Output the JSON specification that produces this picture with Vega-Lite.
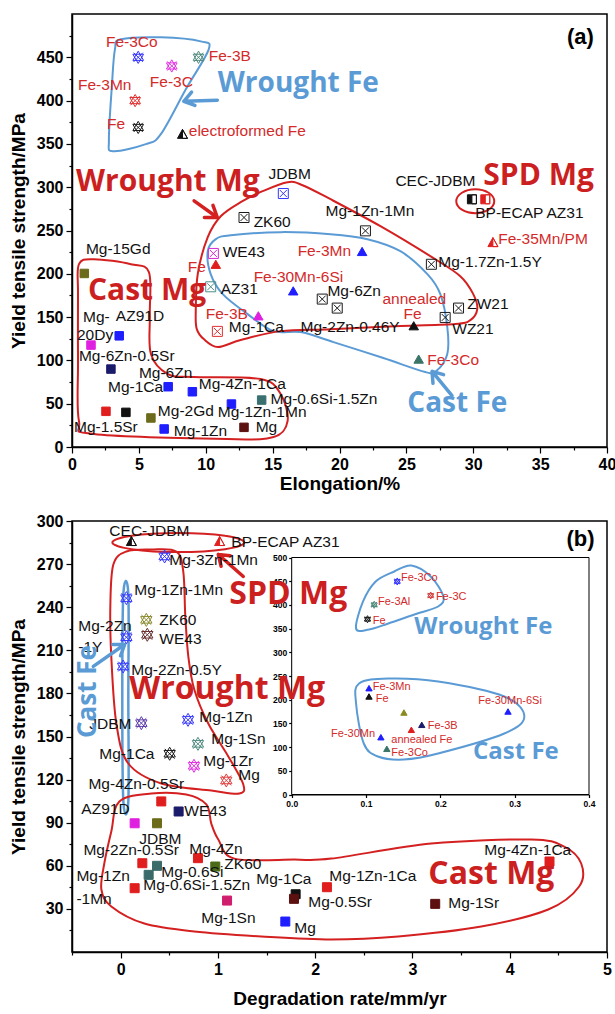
{
"$schema": "https://vega.github.io/schema/vega-lite/v6.json",
"padding": {"left": 8, "top": 13, "right": 5, "bottom": 5},
"spacing": 18,
"resolve": {"scale": {"stroke": "independent", "fill": "independent", "shape": "independent", "size": "independent"}},
"config": {
 "view": {"stroke": "#000", "strokeWidth": 1.5},
 "axis": {"labelFont": "Liberation Sans", "labelFontWeight": "bold", "labelFontSize": 16, "labelColor": "#000", "titleFont": "Liberation Sans", "titleFontWeight": "bold", "titleFontSize": 19, "titleColor": "#000", "domainColor": "#000", "domainWidth": 1.5, "tickColor": "#000", "tickWidth": 1.2, "tickSize": 6, "grid": false, "labelFlush": false, "labelOverlap": false, "labelPadding": 3}
},
"datasets": {
 "a_pts": [
  {"x":4.95,"y":450,"name":"Fe-3Co (wrought)","sym":"wrought Fe"},
  {"x":7.46,"y":440,"name":"Fe-3C (wrought)","sym":"wrought Fe"},
  {"x":9.46,"y":450,"name":"Fe-3B (wrought)","sym":"wrought Fe"},
  {"x":4.72,"y":400,"name":"Fe-3Mn (wrought)","sym":"wrought Fe"},
  {"x":4.95,"y":369,"name":"Fe (wrought)","sym":"wrought Fe"},
  {"x":8.26,"y":361,"name":"electroformed Fe","sym":"electroformed Fe"},
  {"x":15.8,"y":292.7,"name":"JDBM","sym":"wrought Mg"},
  {"x":12.86,"y":265,"name":"ZK60","sym":"wrought Mg"},
  {"x":10.57,"y":223.5,"name":"WE43","sym":"wrought Mg"},
  {"x":10.37,"y":185,"name":"AZ31","sym":"wrought Mg"},
  {"x":21.94,"y":249.6,"name":"Mg-1Zn-1Mn (wrought)","sym":"wrought Mg"},
  {"x":26.87,"y":211,"name":"Mg-1.7Zn-1.5Y","sym":"wrought Mg"},
  {"x":18.71,"y":170.8,"name":"Mg-6Zn (wrought)","sym":"wrought Mg"},
  {"x":19.83,"y":160.4,"name":"Mg-2Zn-0.46Y","sym":"wrought Mg"},
  {"x":28.9,"y":160.4,"name":"ZW21","sym":"wrought Mg"},
  {"x":27.9,"y":149.6,"name":"WZ21","sym":"wrought Mg"},
  {"x":10.87,"y":133.5,"name":"Mg-1Ca (wrought)","sym":"wrought Mg"},
  {"x":29.9,"y":286,"name":"CEC-JDBM","sym":"SPD Mg"},
  {"x":30.9,"y":286,"name":"BP-ECAP AZ31","sym":"SPD Mg"},
  {"x":31.47,"y":236,"name":"Fe-35Mn/PM","sym":"PM Fe"},
  {"x":21.69,"y":225.8,"name":"Fe-3Mn (cast)","sym":"cast Fe"},
  {"x":16.54,"y":180.3,"name":"Fe-30Mn-6Si","sym":"cast Fe"},
  {"x":10.75,"y":211,"name":"Fe (cast)","sym":"cast Fe"},
  {"x":13.93,"y":151.5,"name":"Fe-3B (cast)","sym":"cast Fe"},
  {"x":25.55,"y":140,"name":"annealed Fe","sym":"cast Fe"},
  {"x":25.92,"y":101.5,"name":"Fe-3Co (cast)","sym":"cast Fe"},
  {"x":0.92,"y":200.4,"name":"Mg-15Gd","sym":"cast Mg"},
  {"x":1.42,"y":117.7,"name":"Mg-20Dy","sym":"cast Mg"},
  {"x":3.53,"y":128.4,"name":"AZ91D","sym":"cast Mg"},
  {"x":2.91,"y":90,"name":"Mg-6Zn-0.5Sr","sym":"cast Mg"},
  {"x":7.19,"y":69.6,"name":"Mg-1Ca (cast)","sym":"cast Mg"},
  {"x":9.0,"y":63.8,"name":"Mg-6Zn (cast)","sym":"cast Mg"},
  {"x":11.92,"y":49.6,"name":"Mg-1Zn-1Mn (cast)","sym":"cast Mg"},
  {"x":14.18,"y":54.2,"name":"Mg-0.6Si-1.5Zn","sym":"cast Mg"},
  {"x":2.54,"y":41.2,"name":"Mg-1.5Sr","sym":"cast Mg"},
  {"x":4.03,"y":40,"name":"Mg-4Zn-1Ca","sym":"cast Mg"},
  {"x":5.9,"y":33.5,"name":"Mg-2Gd","sym":"cast Mg"},
  {"x":6.89,"y":20.8,"name":"Mg-1Zn","sym":"cast Mg"},
  {"x":12.86,"y":22.7,"name":"Mg","sym":"cast Mg"}
 ],
 "a_labels": [
  {"x":2.54,"y":467.3,"t":"Fe-3Co","k":"Fe"},
  {"x":10.22,"y":451,"t":"Fe-3B","k":"Fe"},
  {"x":0.45,"y":417.7,"t":"Fe-3Mn","k":"Fe"},
  {"x":5.82,"y":421,"t":"Fe-3C","k":"Fe"},
  {"x":2.61,"y":372.7,"t":"Fe","k":"Fe"},
  {"x":8.73,"y":364.6,"t":"electroformed Fe","k":"Fe"},
  {"x":14.7,"y":315,"t":"JDBM","k":"Mg"},
  {"x":13.58,"y":259.6,"t":"ZK60","k":"Mg"},
  {"x":11.27,"y":225,"t":"WE43","k":"Mg"},
  {"x":11.12,"y":182.3,"t":"AZ31","k":"Mg"},
  {"x":18.96,"y":272.3,"t":"Mg-1Zn-1Mn","k":"Mg"},
  {"x":27.39,"y":213.5,"t":"Mg-1.7Zn-1.5Y","k":"Mg"},
  {"x":19.1,"y":180,"t":"Mg-6Zn","k":"Mg"},
  {"x":29.55,"y":165,"t":"ZW21","k":"Mg"},
  {"x":28.43,"y":136.1,"t":"WZ21","k":"Mg"},
  {"x":24.18,"y":307,"t":"CEC-JDBM","k":"Mg"},
  {"x":30.15,"y":270,"t":"BP-ECAP AZ31","k":"Mg"},
  {"x":31.87,"y":240,"t":"Fe-35Mn/PM","k":"Fe"},
  {"x":16.87,"y":226.1,"t":"Fe-3Mn","k":"Fe"},
  {"x":13.58,"y":196.1,"t":"Fe-30Mn-6Si","k":"Fe"},
  {"x":8.66,"y":207.7,"t":"Fe","k":"Fe"},
  {"x":10.0,"y":153.5,"t":"Fe-3B","k":"Fe"},
  {"x":11.72,"y":138.5,"t":"Mg-1Ca","k":"Mg"},
  {"x":17.09,"y":138.5,"t":"Mg-2Zn-0.46Y","k":"Mg"},
  {"x":23.21,"y":170.8,"t":"annealed","k":"Fe"},
  {"x":24.78,"y":153.5,"t":"Fe","k":"Fe"},
  {"x":26.57,"y":100.8,"t":"Fe-3Co","k":"Fe"},
  {"x":1.04,"y":228.5,"t":"Mg-15Gd","k":"Mg"},
  {"x":0.82,"y":150,"t":"Mg-","k":"Mg"},
  {"x":0.37,"y":129.2,"t":"20Dy","k":"Mg"},
  {"x":3.28,"y":151.1,"t":"AZ91D","k":"Mg"},
  {"x":0.52,"y":105,"t":"Mg-6Zn-0.5Sr","k":"Mg"},
  {"x":2.69,"y":69.2,"t":"Mg-1Ca","k":"Mg"},
  {"x":5.0,"y":85.4,"t":"Mg-6Zn","k":"Mg"},
  {"x":9.48,"y":72.7,"t":"Mg-4Zn-1Ca","k":"Mg"},
  {"x":14.85,"y":55.4,"t":"Mg-0.6Si-1.5Zn","k":"Mg"},
  {"x":10.9,"y":40.4,"t":"Mg-1Zn-1Mn","k":"Mg"},
  {"x":6.42,"y":41.5,"t":"Mg-2Gd","k":"Mg"},
  {"x":0.15,"y":23.1,"t":"Mg-1.5Sr","k":"Mg"},
  {"x":7.61,"y":18.5,"t":"Mg-1Zn","k":"Mg"},
  {"x":13.73,"y":23.1,"t":"Mg","k":"Mg"}
 ],
 "a_big": [
  {"x":10.9,"y":418.8,"t":"Wrought Fe","k":"Fe"},
  {"x":25.07,"y":49.6,"t":"Cast Fe","k":"Fe"},
  {"x":0.3,"y":305.8,"t":"Wrought Mg","k":"Mg"},
  {"x":1.19,"y":180,"t":"Cast Mg","k":"Mg"},
  {"x":30.75,"y":312.7,"t":"SPD Mg","k":"Mg"}
 ],
 "a_outline": [
  {"id":"wFe","k":"Fe","i":0,"x":3.66,"y":470.8},{"id":"wFe","k":"Fe","i":1,"x":6.64,"y":473.1},{"id":"wFe","k":"Fe","i":2,"x":9.63,"y":468.4},{"id":"wFe","k":"Fe","i":3,"x":10.22,"y":459.1},{"id":"wFe","k":"Fe","i":4,"x":8.51,"y":413.1},{"id":"wFe","k":"Fe","i":5,"x":6.64,"y":361.2},{"id":"wFe","k":"Fe","i":6,"x":5.52,"y":349.7},{"id":"wFe","k":"Fe","i":7,"x":3.06,"y":341.6},{"id":"wFe","k":"Fe","i":8,"x":2.76,"y":355.4},{"id":"wFe","k":"Fe","i":9,"x":2.99,"y":418.8},{"id":"wFe","k":"Fe","i":10,"x":3.21,"y":459.1},
  {"id":"wMg","k":"Mg","i":0,"x":9.25,"y":153.5},{"id":"wMg","k":"Mg","i":1,"x":9.4,"y":199.6},{"id":"wMg","k":"Mg","i":2,"x":10.15,"y":242.3},{"id":"wMg","k":"Mg","i":3,"x":11.12,"y":266.5},{"id":"wMg","k":"Mg","i":4,"x":12.61,"y":282.7},{"id":"wMg","k":"Mg","i":5,"x":14.25,"y":295.4},{"id":"wMg","k":"Mg","i":6,"x":16.12,"y":305.8},{"id":"wMg","k":"Mg","i":7,"x":17.24,"y":302.3},{"id":"wMg","k":"Mg","i":8,"x":19.33,"y":286.1},{"id":"wMg","k":"Mg","i":9,"x":23.06,"y":255},{"id":"wMg","k":"Mg","i":10,"x":26.79,"y":220.4},{"id":"wMg","k":"Mg","i":11,"x":29.03,"y":197.3},{"id":"wMg","k":"Mg","i":12,"x":30.0,"y":176.5},{"id":"wMg","k":"Mg","i":13,"x":30.3,"y":159.2},{"id":"wMg","k":"Mg","i":14,"x":29.78,"y":146.5},{"id":"wMg","k":"Mg","i":15,"x":28.66,"y":141.9},{"id":"wMg","k":"Mg","i":16,"x":24.55,"y":139.6},{"id":"wMg","k":"Mg","i":17,"x":19.33,"y":136.1},{"id":"wMg","k":"Mg","i":18,"x":15.6,"y":133.8},{"id":"wMg","k":"Mg","i":19,"x":12.61,"y":123.5},{"id":"wMg","k":"Mg","i":20,"x":10.9,"y":115.4},{"id":"wMg","k":"Mg","i":21,"x":9.85,"y":124.6},{"id":"wMg","k":"Mg","i":22,"x":9.33,"y":136.1},
  {"id":"cFe","k":"Fe","i":0,"x":10.15,"y":226.1},{"id":"cFe","k":"Fe","i":1,"x":10.75,"y":240},{"id":"cFe","k":"Fe","i":2,"x":11.87,"y":244.6},{"id":"cFe","k":"Fe","i":3,"x":15.6,"y":248.1},{"id":"cFe","k":"Fe","i":4,"x":19.33,"y":245.8},{"id":"cFe","k":"Fe","i":5,"x":22.09,"y":240},{"id":"cFe","k":"Fe","i":6,"x":24.55,"y":226.1},{"id":"cFe","k":"Fe","i":7,"x":26.57,"y":199.6},{"id":"cFe","k":"Fe","i":8,"x":27.54,"y":176.5},{"id":"cFe","k":"Fe","i":9,"x":28.06,"y":138.5},{"id":"cFe","k":"Fe","i":10,"x":28.06,"y":107.3},{"id":"cFe","k":"Fe","i":11,"x":27.24,"y":87.7},{"id":"cFe","k":"Fe","i":12,"x":26.42,"y":86.5},{"id":"cFe","k":"Fe","i":13,"x":23.28,"y":102.7},{"id":"cFe","k":"Fe","i":14,"x":19.55,"y":121.1},{"id":"cFe","k":"Fe","i":15,"x":17.09,"y":132.7},{"id":"cFe","k":"Fe","i":16,"x":15.07,"y":133.8},{"id":"cFe","k":"Fe","i":17,"x":13.13,"y":153.5},{"id":"cFe","k":"Fe","i":18,"x":11.27,"y":176.5},{"id":"cFe","k":"Fe","i":19,"x":10.37,"y":199.6},
  {"id":"cMg","k":"Mg","i":0,"x":0.52,"y":211.1},{"id":"cMg","k":"Mg","i":1,"x":1.64,"y":216.9},{"id":"cMg","k":"Mg","i":2,"x":4.4,"y":211.1},{"id":"cMg","k":"Mg","i":3,"x":5.75,"y":201.9},{"id":"cMg","k":"Mg","i":4,"x":5.82,"y":153.5},{"id":"cMg","k":"Mg","i":5,"x":5.9,"y":107.3},{"id":"cMg","k":"Mg","i":6,"x":7.16,"y":84.2},{"id":"cMg","k":"Mg","i":7,"x":9.1,"y":80.8},{"id":"cMg","k":"Mg","i":8,"x":14.1,"y":78.5},{"id":"cMg","k":"Mg","i":9,"x":15.6,"y":61.2},{"id":"cMg","k":"Mg","i":10,"x":16.12,"y":30},{"id":"cMg","k":"Mg","i":11,"x":15.07,"y":11.5},{"id":"cMg","k":"Mg","i":12,"x":11.64,"y":9.2},{"id":"cMg","k":"Mg","i":13,"x":1.64,"y":15},{"id":"cMg","k":"Mg","i":14,"x":0.52,"y":30},{"id":"cMg","k":"Mg","i":15,"x":0.45,"y":99.2},{"id":"cMg","k":"Mg","i":16,"x":0.45,"y":176.5},
  {"id":"spd","k":"Mg","i":0,"x":31.57,"y":283.8},{"id":"spd","k":"Mg","i":1,"x":31.15,"y":293.6},{"id":"spd","k":"Mg","i":2,"x":30.15,"y":297.7},{"id":"spd","k":"Mg","i":3,"x":29.15,"y":293.6},{"id":"spd","k":"Mg","i":4,"x":28.73,"y":283.8},{"id":"spd","k":"Mg","i":5,"x":29.15,"y":274},{"id":"spd","k":"Mg","i":6,"x":30.15,"y":270},{"id":"spd","k":"Mg","i":7,"x":31.15,"y":274}
 ],
 "a_arrows": [
  {"id":"wFe","k":"Fe","i":0,"x":10.87,"y":400.5},{"id":"wFe","k":"Fe","i":1,"x":8.36,"y":399.2},{"id":"wFe","k":"Fe","i":2,"x":9.19,"y":394.4},{"id":"wFe","k":"Fe","i":3,"x":8.36,"y":399.2},{"id":"wFe","k":"Fe","i":4,"x":8.94,"y":409.7},
  {"id":"wMg","k":"Mg","i":0,"x":9.13,"y":284.2},{"id":"wMg","k":"Mg","i":1,"x":10.87,"y":265},{"id":"wMg","k":"Mg","i":2,"x":10.54,"y":279.1},{"id":"wMg","k":"Mg","i":3,"x":10.87,"y":265},{"id":"wMg","k":"Mg","i":4,"x":9.9,"y":265.1},
  {"id":"cFe","k":"Fe","i":0,"x":28.41,"y":59.2},{"id":"cFe","k":"Fe","i":1,"x":26.92,"y":87.3},{"id":"cFe","k":"Fe","i":2,"x":26.99,"y":73.5},{"id":"cFe","k":"Fe","i":3,"x":26.92,"y":87.3},{"id":"cFe","k":"Fe","i":4,"x":27.78,"y":83.5}
 ],
 "b_pts": [
  {"x":0.452,"y":275.3,"name":"Mg-3Zn-1Mn","sym":"wrought Mg"},
  {"x":0.059,"y":246.3,"name":"Mg-1Zn-1Mn (wrought)","sym":"wrought Mg"},
  {"x":0.264,"y":231.2,"name":"ZK60 (wrought)","sym":"wrought Mg"},
  {"x":0.274,"y":220.8,"name":"WE43 (wrought)","sym":"wrought Mg"},
  {"x":0.059,"y":219.1,"name":"Mg-2Zn-1Y","sym":"wrought Mg"},
  {"x":0.025,"y":198.7,"name":"Mg-2Zn-0.5Y","sym":"wrought Mg"},
  {"x":0.213,"y":159.3,"name":"JDBM (wrought)","sym":"wrought Mg"},
  {"x":0.693,"y":161.6,"name":"Mg-1Zn (wrought)","sym":"wrought Mg"},
  {"x":0.795,"y":144.9,"name":"Mg-1Sn (wrought)","sym":"wrought Mg"},
  {"x":0.504,"y":138,"name":"Mg-1Ca (wrought)","sym":"wrought Mg"},
  {"x":0.754,"y":129.6,"name":"Mg-1Zr","sym":"wrought Mg"},
  {"x":1.086,"y":119.4,"name":"Mg (wrought)","sym":"wrought Mg"},
  {"x":0.11,"y":285.7,"name":"CEC-JDBM","sym":"SPD Mg"},
  {"x":1.017,"y":285.7,"name":"BP-ECAP AZ31","sym":"SPD Mg"},
  {"x":0.418,"y":104.8,"name":"Mg-4Zn-0.5Sr","sym":"cast Mg"},
  {"x":0.596,"y":97.8,"name":"WE43 (cast)","sym":"cast Mg"},
  {"x":0.144,"y":89.6,"name":"AZ91D","sym":"cast Mg"},
  {"x":0.374,"y":89.6,"name":"JDBM (cast)","sym":"cast Mg"},
  {"x":0.223,"y":61.8,"name":"Mg-2Zn-0.5Sr","sym":"cast Mg"},
  {"x":0.795,"y":65.3,"name":"Mg-4Zn","sym":"cast Mg"},
  {"x":0.973,"y":59.5,"name":"ZK60 (cast)","sym":"cast Mg"},
  {"x":0.374,"y":60,"name":"Mg-0.6Si","sym":"cast Mg"},
  {"x":0.288,"y":53.7,"name":"Mg-0.6Si-1.5Zn","sym":"cast Mg"},
  {"x":0.144,"y":44.4,"name":"Mg-1Zn-1Mn (cast)","sym":"cast Mg"},
  {"x":1.094,"y":35.8,"name":"Mg-1Sn (cast)","sym":"cast Mg"},
  {"x":1.799,"y":40.2,"name":"Mg-1Ca (cast)","sym":"cast Mg"},
  {"x":1.782,"y":37,"name":"Mg-0.5Sr","sym":"cast Mg"},
  {"x":1.693,"y":21.2,"name":"Mg (cast)","sym":"cast Mg"},
  {"x":2.121,"y":45.1,"name":"Mg-1Zn-1Ca","sym":"cast Mg"},
  {"x":3.234,"y":33.5,"name":"Mg-1Sr","sym":"cast Mg"},
  {"x":4.409,"y":63,"name":"Mg-4Zn-1Ca","sym":"cast Mg"}
 ],
 "b_labels": [
  {"x":-0.116,"y":292.7,"t":"CEC-JDBM"},
  {"x":1.138,"y":285.7,"t":"BP-ECAP AZ31"},
  {"x":0.5,"y":273.2,"t":"Mg-3Zn-1Mn"},
  {"x":0.141,"y":252.3,"t":"Mg-1Zn-1Mn"},
  {"x":0.398,"y":231.4,"t":"ZK60"},
  {"x":0.398,"y":218.2,"t":"WE43"},
  {"x":-0.435,"y":226.6,"t":"Mg-2Zn"},
  {"x":-0.435,"y":212.6,"t":"-1Y"},
  {"x":0.11,"y":196.6,"t":"Mg-2Zn-0.5Y"},
  {"x":-0.322,"y":159,"t":"JDBM"},
  {"x":0.809,"y":163.9,"t":"Mg-1Zn"},
  {"x":0.932,"y":148.6,"t":"Mg-1Sn"},
  {"x":-0.219,"y":137.5,"t":"Mg-1Ca"},
  {"x":0.85,"y":132.6,"t":"Mg-1Zr"},
  {"x":1.209,"y":123.5,"t":"Mg"},
  {"x":-0.331,"y":116.6,"t":"Mg-4Zn-0.5Sr"},
  {"x":-0.404,"y":99.2,"t":"AZ91D"},
  {"x":0.655,"y":97.8,"t":"WE43"},
  {"x":0.192,"y":79,"t":"JDBM"},
  {"x":-0.383,"y":71.3,"t":"Mg-2Zn-0.5Sr"},
  {"x":0.706,"y":72,"t":"Mg-4Zn"},
  {"x":1.066,"y":61.6,"t":"ZK60"},
  {"x":0.418,"y":56,"t":"Mg-0.6Si"},
  {"x":0.233,"y":46.3,"t":"Mg-0.6Si-1.5Zn"},
  {"x":-0.455,"y":52.6,"t":"Mg-1Zn"},
  {"x":-0.455,"y":37.2,"t":"-1Mn"},
  {"x":0.829,"y":24,"t":"Mg-1Sn"},
  {"x":1.395,"y":50.5,"t":"Mg-1Ca"},
  {"x":1.929,"y":35.1,"t":"Mg-0.5Sr"},
  {"x":1.785,"y":16.4,"t":"Mg"},
  {"x":2.145,"y":52.6,"t":"Mg-1Zn-1Ca"},
  {"x":3.368,"y":33.8,"t":"Mg-1Sr"},
  {"x":3.738,"y":71.3,"t":"Mg-4Zn-1Ca"}
 ],
 "b_big": [
  {"x":1.117,"y":249.5,"t":"SPD Mg"},
  {"x":0.089,"y":183.4,"t":"Wrought Mg"},
  {"x":3.163,"y":54.6,"t":"Cast Mg"}
 ],
 "b_outline": [
  {"id":"spd","k":"Mg","i":0,"x":1.271,"y":285},{"id":"spd","k":"Mg","i":1,"x":1.073,"y":289.7},{"id":"spd","k":"Mg","i":2,"x":0.593,"y":291.6},{"id":"spd","k":"Mg","i":3,"x":0.113,"y":289.7},{"id":"spd","k":"Mg","i":4,"x":-0.085,"y":285},{"id":"spd","k":"Mg","i":5,"x":0.113,"y":280.4},{"id":"spd","k":"Mg","i":6,"x":0.593,"y":278.4},{"id":"spd","k":"Mg","i":7,"x":1.073,"y":280.4},
  {"id":"wMg","k":"Mg","i":0,"x":-0.075,"y":269.7},{"id":"wMg","k":"Mg","i":1,"x":0.059,"y":278.8},{"id":"wMg","k":"Mg","i":2,"x":0.316,"y":280.2},{"id":"wMg","k":"Mg","i":3,"x":0.572,"y":278.8},{"id":"wMg","k":"Mg","i":4,"x":0.644,"y":264.8},{"id":"wMg","k":"Mg","i":5,"x":0.665,"y":233.5},{"id":"wMg","k":"Mg","i":6,"x":0.696,"y":205.6},{"id":"wMg","k":"Mg","i":7,"x":0.757,"y":182.7},{"id":"wMg","k":"Mg","i":8,"x":0.901,"y":159},{"id":"wMg","k":"Mg","i":9,"x":1.107,"y":136.1},{"id":"wMg","k":"Mg","i":10,"x":1.261,"y":116.6},{"id":"wMg","k":"Mg","i":11,"x":1.22,"y":110.3},{"id":"wMg","k":"Mg","i":12,"x":0.932,"y":112.4},{"id":"wMg","k":"Mg","i":13,"x":0.418,"y":117.3},{"id":"wMg","k":"Mg","i":14,"x":0.079,"y":131.2},{"id":"wMg","k":"Mg","i":15,"x":-0.044,"y":159},{"id":"wMg","k":"Mg","i":16,"x":-0.096,"y":205.6},{"id":"wMg","k":"Mg","i":17,"x":-0.106,"y":240.5},
  {"id":"cMg","k":"Mg","i":0,"x":-0.013,"y":104.8},{"id":"cMg","k":"Mg","i":1,"x":-0.096,"y":83.9},{"id":"cMg","k":"Mg","i":2,"x":-0.168,"y":61.6},{"id":"cMg","k":"Mg","i":3,"x":-0.198,"y":43.5},{"id":"cMg","k":"Mg","i":4,"x":-0.096,"y":31.7},{"id":"cMg","k":"Mg","i":5,"x":0.244,"y":19.8},{"id":"cMg","k":"Mg","i":6,"x":0.757,"y":14.3},{"id":"cMg","k":"Mg","i":7,"x":1.446,"y":10.8},{"id":"cMg","k":"Mg","i":8,"x":2.166,"y":8.7},{"id":"cMg","k":"Mg","i":9,"x":2.854,"y":10.8},{"id":"cMg","k":"Mg","i":10,"x":3.707,"y":17.7},{"id":"cMg","k":"Mg","i":11,"x":4.396,"y":29.6},{"id":"cMg","k":"Mg","i":12,"x":4.714,"y":45.6},{"id":"cMg","k":"Mg","i":13,"x":4.735,"y":61.6},{"id":"cMg","k":"Mg","i":14,"x":4.56,"y":73.4},{"id":"cMg","k":"Mg","i":15,"x":4.221,"y":78.3},{"id":"cMg","k":"Mg","i":16,"x":3.193,"y":75.5},{"id":"cMg","k":"Mg","i":17,"x":2.166,"y":65},{"id":"cMg","k":"Mg","i":18,"x":1.785,"y":64.3},{"id":"cMg","k":"Mg","i":19,"x":1.169,"y":65},{"id":"cMg","k":"Mg","i":20,"x":1.004,"y":78.3},{"id":"cMg","k":"Mg","i":21,"x":0.932,"y":89.4},{"id":"cMg","k":"Mg","i":22,"x":0.881,"y":102.7},{"id":"cMg","k":"Mg","i":23,"x":0.675,"y":109.6},{"id":"cMg","k":"Mg","i":24,"x":0.316,"y":110.3},
  {"id":"cFe","k":"Fe","i":0,"x":0.028,"y":249.5},{"id":"cFe","k":"Fe","i":1,"x":0.079,"y":249.5},{"id":"cFe","k":"Fe","i":2,"x":0.079,"y":177.8},{"id":"cFe","k":"Fe","i":3,"x":0.079,"y":104.8},{"id":"cFe","k":"Fe","i":4,"x":0.028,"y":104.8},{"id":"cFe","k":"Fe","i":5,"x":0.017,"y":177.8}
 ],
 "b_arrows": [
  {"id":"spd","k":"Mg","i":0,"x":1.261,"y":261.4},{"id":"spd","k":"Mg","i":1,"x":1.004,"y":276.7},{"id":"spd","k":"Mg","i":2,"x":1.033,"y":268.5},{"id":"spd","k":"Mg","i":3,"x":1.004,"y":276.7},{"id":"spd","k":"Mg","i":4,"x":1.126,"y":275.8},
  {"id":"cFe","k":"Fe","i":0,"x":-0.281,"y":198.8},{"id":"cFe","k":"Fe","i":1,"x":0.041,"y":214},{"id":"cFe","k":"Fe","i":2,"x":-0.082,"y":214},{"id":"cFe","k":"Fe","i":3,"x":0.041,"y":214},{"id":"cFe","k":"Fe","i":4,"x":-0.001,"y":206.2}
 ],
 "in_pts": [
  {"x":0.142,"y":449.4,"name":"Fe-3Co (wrought)","sym":"wrought Fe"},
  {"x":0.187,"y":419.8,"name":"Fe-3C (wrought)","sym":"wrought Fe"},
  {"x":0.111,"y":400.2,"name":"Fe-3Al","sym":"wrought Fe"},
  {"x":0.102,"y":369.8,"name":"Fe (wrought)","sym":"wrought Fe"},
  {"x":0.104,"y":224.3,"name":"Fe-3Mn","sym":"cast Fe"},
  {"x":0.104,"y":206.8,"name":"Fe (cast)","sym":"cast Fe"},
  {"x":0.151,"y":173,"name":"unlabelled","sym":"cast Fe"},
  {"x":0.175,"y":147,"name":"Fe-3B","sym":"cast Fe"},
  {"x":0.161,"y":136.5,"name":"annealed Fe","sym":"cast Fe"},
  {"x":0.12,"y":120.9,"name":"Fe-30Mn","sym":"cast Fe"},
  {"x":0.128,"y":96.4,"name":"Fe-3Co (cast)","sym":"cast Fe"},
  {"x":0.291,"y":175.1,"name":"Fe-30Mn-6Si","sym":"cast Fe"}
 ],
 "in_labels": [
  {"x":0.147,"y":455.7,"t":"Fe-3Co"},
  {"x":0.194,"y":417.7,"t":"Fe-3C"},
  {"x":0.116,"y":405.1,"t":"Fe-3Al"},
  {"x":0.109,"y":365,"t":"Fe"},
  {"x":0.109,"y":227.8,"t":"Fe-3Mn"},
  {"x":0.113,"y":202.5,"t":"Fe"},
  {"x":0.183,"y":143.5,"t":"Fe-3B"},
  {"x":0.134,"y":116,"t":"annealed Fe"},
  {"x":0.053,"y":126.6,"t":"Fe-30Mn"},
  {"x":0.134,"y":86.5,"t":"Fe-3Co"},
  {"x":0.251,"y":198.3,"t":"Fe-30Mn-6Si"}
 ],
 "in_big": [
  {"x":0.165,"y":354.4,"t":"Wrought Fe"},
  {"x":0.244,"y":90.7,"t":"Cast Fe"}
 ],
 "in_outline": [
  {"id":"wFe","i":0,"x":0.0866,"y":350.2},{"id":"wFe","i":1,"x":0.096,"y":407.2},{"id":"wFe","i":2,"x":0.113,"y":449.4},{"id":"wFe","i":3,"x":0.138,"y":470.5},{"id":"wFe","i":4,"x":0.161,"y":483.1},{"id":"wFe","i":5,"x":0.187,"y":459.9},{"id":"wFe","i":6,"x":0.204,"y":417.7},{"id":"wFe","i":7,"x":0.197,"y":396.6},{"id":"wFe","i":8,"x":0.165,"y":379.7},{"id":"wFe","i":9,"x":0.13,"y":360.8},{"id":"wFe","i":10,"x":0.104,"y":348.1},
  {"id":"cFe","i":0,"x":0.0906,"y":234.2},{"id":"cFe","i":1,"x":0.13,"y":244.7},{"id":"cFe","i":2,"x":0.197,"y":238.4},{"id":"cFe","i":3,"x":0.286,"y":206.8},{"id":"cFe","i":4,"x":0.313,"y":164.6},{"id":"cFe","i":5,"x":0.286,"y":128.7},{"id":"cFe","i":6,"x":0.197,"y":86.5},{"id":"cFe","i":7,"x":0.151,"y":73.8},{"id":"cFe","i":8,"x":0.116,"y":80.2},{"id":"cFe","i":9,"x":0.097,"y":107.6},{"id":"cFe","i":10,"x":0.0866,"y":192}
 ]
},
"vconcat": [
 {
  "width": 535, "height": 433,
  "resolve": {"scale": {"x": "independent", "y": "independent"}},
  "layer": [
   {
    "encoding": {
     "x": {"field": "x", "type": "quantitative", "scale": {"domain": [0, 40], "nice": false, "zero": false}, "axis": {"values": [0,5,10,15,20,25,30,35,40], "title": "Elongation/%", "titlePadding": 2}},
     "y": {"field": "y", "type": "quantitative", "scale": {"domain": [0, 500], "nice": false, "zero": false}, "axis": {"values": [0,50,100,150,200,250,300,350,400,450], "title": "Yield tensile strength/MPa", "titlePadding": 8}}
    },
    "layer": [
     {"data": {"name": "a_outline"}, "transform": [{"filter": "datum.k === 'Fe'"}], "mark": {"type": "line", "interpolate": "cardinal-closed", "strokeWidth": 2, "color": "#5b9bd5"}, "encoding": {"detail": {"field": "id"}, "order": {"field": "i"}}},
     {"data": {"name": "a_outline"}, "transform": [{"filter": "datum.k === 'Mg'"}], "mark": {"type": "line", "interpolate": "cardinal-closed", "strokeWidth": 2, "color": "#d42020"}, "encoding": {"detail": {"field": "id"}, "order": {"field": "i"}}},
     {"data": {"name": "a_arrows"}, "transform": [{"filter": "datum.k === 'Fe'"}], "mark": {"type": "line", "strokeWidth": 3.5, "strokeCap": "round", "strokeJoin": "round", "color": "#5b9bd5"}, "encoding": {"detail": {"field": "id"}, "order": {"field": "i"}}},
     {"data": {"name": "a_arrows"}, "transform": [{"filter": "datum.k === 'Mg'"}], "mark": {"type": "line", "strokeWidth": 3.5, "strokeCap": "round", "strokeJoin": "round", "color": "#d42020"}, "encoding": {"detail": {"field": "id"}, "order": {"field": "i"}}},
     {
      "data": {"name": "a_pts"},
      "encoding": {
       "stroke": {"field": "name", "type": "nominal", "legend": null, "scale": {"domain": ["Fe-3Co (wrought)","Fe-3C (wrought)","Fe-3B (wrought)","Fe-3Mn (wrought)","Fe (wrought)","electroformed Fe","JDBM","ZK60","WE43","AZ31","Mg-1Zn-1Mn (wrought)","Mg-1.7Zn-1.5Y","Mg-6Zn (wrought)","Mg-2Zn-0.46Y","ZW21","WZ21","Mg-1Ca (wrought)","CEC-JDBM","BP-ECAP AZ31","Fe-35Mn/PM","Fe-3Mn (cast)","Fe-30Mn-6Si","Fe (cast)","Fe-3B (cast)","annealed Fe","Fe-3Co (cast)","Mg-15Gd","Mg-20Dy","AZ91D","Mg-6Zn-0.5Sr","Mg-1Ca (cast)","Mg-6Zn (cast)","Mg-1Zn-1Mn (cast)","Mg-0.6Si-1.5Zn","Mg-1.5Sr","Mg-4Zn-1Ca","Mg-2Gd","Mg-1Zn","Mg"], "range": ["#3030ff","#e030e0","#4f8a7c","#e03030","#1a1a1a","#111111","#3535ff","#1a1a1a","#d42ad4","#4f8f86","#1a1a1a","#1a1a1a","#1a1a1a","#1a1a1a","#1a1a1a","#1a1a1a","#e03030","#111111","#e02020","#e02020","#1e1eff","#1e1eff","#e01e1e","#e020e0","#111111","#3a7468","#6b6b1b","#e020e0","#1e1eff","#1b1b6b","#1e1eff","#1e1eff","#1e1eff","#3a7070","#e01e1e","#111111","#6b6b1b","#1e1eff","#5c1010"]}},
       "shape": {"field": "sym", "type": "nominal", "legend": null, "scale": {"domain": ["wrought Fe","wrought Mg","cast Fe","cast Mg","SPD Mg","PM Fe","electroformed Fe"], "range": ["M0,-1L0.87,0.5L-0.87,0.5Z M0,1L0.87,-0.5L-0.87,-0.5Z M-0.75,-0.75L0.75,0.75 M0.75,-0.75L-0.75,0.75", "M-1,-1L1,-1L1,1L-1,1Z M-0.7,-0.7L0.7,0.7 M0.7,-0.7L-0.7,0.7", "triangle-up", "square", "M-1,-1L1,-1L1,1L-1,1Z M0,-1L0,1L1,1L1,-1Z", "M0,-1L1,0.8L-1,0.8Z M0,-1L0,0.8L1,0.8Z", "M0,-1L1,0.8L-1,0.8Z M0,-1L0,0.8L1,0.8Z"]}},
       "size": {"field": "sym", "type": "nominal", "legend": null, "scale": {"type": "ordinal", "domain": ["wrought Fe","wrought Mg","cast Fe","cast Mg","SPD Mg","PM Fe","electroformed Fe"], "range": [150, 100, 90, 72, 81, 100, 100]}}
      },
      "layer": [
       {"transform": [{"filter": "datum.sym === 'wrought Fe' || datum.sym === 'wrought Mg'"}], "mark": {"type": "point", "filled": false, "strokeWidth": 1, "opacity": 1}},
       {"transform": [{"filter": "datum.sym !== 'wrought Fe' && datum.sym !== 'wrought Mg'"}], "mark": {"type": "point", "filled": true, "strokeWidth": 1, "opacity": 1},
        "encoding": {"fill": {"field": "name", "type": "nominal", "legend": null, "scale": {"domain": ["Fe-3Co (wrought)","Fe-3C (wrought)","Fe-3B (wrought)","Fe-3Mn (wrought)","Fe (wrought)","electroformed Fe","JDBM","ZK60","WE43","AZ31","Mg-1Zn-1Mn (wrought)","Mg-1.7Zn-1.5Y","Mg-6Zn (wrought)","Mg-2Zn-0.46Y","ZW21","WZ21","Mg-1Ca (wrought)","CEC-JDBM","BP-ECAP AZ31","Fe-35Mn/PM","Fe-3Mn (cast)","Fe-30Mn-6Si","Fe (cast)","Fe-3B (cast)","annealed Fe","Fe-3Co (cast)","Mg-15Gd","Mg-20Dy","AZ91D","Mg-6Zn-0.5Sr","Mg-1Ca (cast)","Mg-6Zn (cast)","Mg-1Zn-1Mn (cast)","Mg-0.6Si-1.5Zn","Mg-1.5Sr","Mg-4Zn-1Ca","Mg-2Gd","Mg-1Zn","Mg"], "range": ["#3030ff","#e030e0","#4f8a7c","#e03030","#1a1a1a","#111111","#3535ff","#1a1a1a","#d42ad4","#4f8f86","#1a1a1a","#1a1a1a","#1a1a1a","#1a1a1a","#1a1a1a","#1a1a1a","#e03030","#111111","#e02020","#e02020","#1e1eff","#1e1eff","#e01e1e","#e020e0","#111111","#3a7468","#6b6b1b","#e020e0","#1e1eff","#1b1b6b","#1e1eff","#1e1eff","#1e1eff","#3a7070","#e01e1e","#111111","#6b6b1b","#1e1eff","#5c1010"]}}}}
      ]
     },
     {"data": {"name": "a_labels"}, "transform": [{"filter": "datum.k === 'Fe'"}], "mark": {"type": "text", "align": "left", "baseline": "middle", "font": "Liberation Sans", "fontSize": 15.5, "color": "#d42a2a"}, "encoding": {"text": {"field": "t"}}},
     {"data": {"name": "a_labels"}, "transform": [{"filter": "datum.k === 'Mg'"}], "mark": {"type": "text", "align": "left", "baseline": "middle", "font": "Liberation Sans", "fontSize": 15.5, "color": "#111111"}, "encoding": {"text": {"field": "t"}}},
     {"data": {"name": "a_big"}, "transform": [{"filter": "datum.k === 'Fe'"}], "mark": {"type": "text", "align": "left", "baseline": "middle", "font": "Open Sans", "fontWeight": "bold", "fontSize": 28, "color": "#5b9bd5"}, "encoding": {"text": {"field": "t"}}},
     {"data": {"name": "a_big"}, "transform": [{"filter": "datum.k === 'Mg'"}], "mark": {"type": "text", "align": "left", "baseline": "middle", "font": "Open Sans", "fontWeight": "bold", "fontSize": 30, "color": "#cc1f1f"}, "encoding": {"text": {"field": "t"}}},
     {"data": {"values": [{"x": 37.0, "y": 473, "t": "(a)"}]}, "mark": {"type": "text", "align": "left", "baseline": "middle", "font": "Liberation Sans", "fontWeight": "bold", "fontSize": 22, "color": "#000"}, "encoding": {"text": {"field": "t"}}}
    ]
   },
   {
    "data": {"values": [{"x": 0, "y": 0}]},
    "mark": {"type": "text", "text": ""},
    "encoding": {
     "x": {"field": "x", "type": "quantitative", "scale": {"domain": [0, 40], "nice": false, "zero": false}, "axis": {"orient": "bottom", "values": [2.5,7.5,12.5,17.5,22.5,27.5,32.5,37.5], "labels": false, "domain": false, "tickSize": 3, "title": null}},
     "y": {"field": "y", "type": "quantitative", "scale": {"domain": [0, 500], "nice": false, "zero": false}, "axis": {"orient": "left", "values": [25,75,125,175,225,275,325,375,425,475], "labels": false, "domain": false, "tickSize": 3, "title": null}}
    }
   }
  ]
 },
 {
  "width": 535, "height": 431,
  "resolve": {"scale": {"x": "independent", "y": "independent"}},
  "layer": [
   {
    "encoding": {
     "x": {"field": "x", "type": "quantitative", "scale": {"domain": [-0.5, 5], "nice": false, "zero": false}, "axis": {"values": [0,1,2,3,4,5], "title": "Degradation rate/mm/yr", "titlePadding": 12}},
     "y": {"field": "y", "type": "quantitative", "scale": {"domain": [0, 300], "nice": false, "zero": false}, "axis": {"values": [30,60,90,120,150,180,210,240,270,300], "title": "Yield tensile strength/MPa", "titlePadding": 8}}
    },
    "layer": [
     {"data": {"name": "b_outline"}, "transform": [{"filter": "datum.k === 'Fe'"}], "mark": {"type": "line", "interpolate": "cardinal-closed", "strokeWidth": 2.5, "color": "#5b9bd5"}, "encoding": {"detail": {"field": "id"}, "order": {"field": "i"}}},
     {"data": {"name": "b_outline"}, "transform": [{"filter": "datum.k === 'Mg'"}], "mark": {"type": "line", "interpolate": "cardinal-closed", "strokeWidth": 2, "color": "#d42020"}, "encoding": {"detail": {"field": "id"}, "order": {"field": "i"}}},
     {"data": {"name": "b_arrows"}, "transform": [{"filter": "datum.k === 'Fe'"}], "mark": {"type": "line", "strokeWidth": 3.5, "strokeCap": "round", "strokeJoin": "round", "color": "#5b9bd5"}, "encoding": {"detail": {"field": "id"}, "order": {"field": "i"}}},
     {"data": {"name": "b_arrows"}, "transform": [{"filter": "datum.k === 'Mg'"}], "mark": {"type": "line", "strokeWidth": 3.5, "strokeCap": "round", "strokeJoin": "round", "color": "#d42020"}, "encoding": {"detail": {"field": "id"}, "order": {"field": "i"}}},
     {
      "data": {"name": "b_pts"},
      "encoding": {
       "stroke": {"field": "name", "type": "nominal", "legend": null, "scale": {"domain": ["Mg-3Zn-1Mn","Mg-1Zn-1Mn (wrought)","ZK60 (wrought)","WE43 (wrought)","Mg-2Zn-1Y","Mg-2Zn-0.5Y","JDBM (wrought)","Mg-1Zn (wrought)","Mg-1Sn (wrought)","Mg-1Ca (wrought)","Mg-1Zr","Mg (wrought)","CEC-JDBM","BP-ECAP AZ31","Mg-4Zn-0.5Sr","WE43 (cast)","AZ91D","JDBM (cast)","Mg-2Zn-0.5Sr","Mg-4Zn","ZK60 (cast)","Mg-0.6Si","Mg-0.6Si-1.5Zn","Mg-1Zn-1Mn (cast)","Mg-1Sn (cast)","Mg-1Ca (cast)","Mg-0.5Sr","Mg (cast)","Mg-1Zn-1Ca","Mg-1Sr","Mg-4Zn-1Ca","Fe-3Co (wrought)","Fe-3C (wrought)","Fe-3Al","Fe (wrought)","Fe-3Mn","Fe (cast)","unlabelled","Fe-3B","annealed Fe","Fe-30Mn","Fe-3Co (cast)","Fe-30Mn-6Si"], "range": ["#3a3aff","#3a3aff","#8a8a30","#6b3030","#3a3aff","#3a3aff","#5a3aaa","#3a3aff","#4f8a80","#1a1a1a","#e030e0","#e04040","#111111","#e02020","#e01e1e","#1b1b6b","#e020e0","#6b6b1b","#e01e1e","#e01e1e","#4a6a1a","#3a6a6a","#3a6a6a","#e01e1e","#d01e6e","#111111","#5c1010","#1e1eff","#e01e1e","#5c1010","#e01e1e","#3030ff","#d04040","#4f8a7c","#1a1a1a","#1e1eff","#111111","#8a8a20","#1b1b6b","#e01e1e","#1e1eff","#3a7468","#1e1eff"]}},
       "shape": {"field": "sym", "type": "nominal", "legend": null, "scale": {"domain": ["wrought Mg","SPD Mg","cast Mg"], "range": ["M0,-1L0.87,0.5L-0.87,0.5Z M0,1L0.87,-0.5L-0.87,-0.5Z M-0.75,-0.75L0.75,0.75 M0.75,-0.75L-0.75,0.75", "M0,-1L1,0.8L-1,0.8Z M0,-1L0,0.8L1,0.8Z", "square"]}},
       "size": {"field": "sym", "type": "nominal", "legend": null, "scale": {"type": "ordinal", "domain": ["wrought Mg","SPD Mg","cast Mg"], "range": [170, 100, 81]}}
      },
      "layer": [
       {"transform": [{"filter": "datum.sym === 'wrought Mg'"}], "mark": {"type": "point", "filled": false, "strokeWidth": 1, "opacity": 1}},
       {"transform": [{"filter": "datum.sym !== 'wrought Mg'"}], "mark": {"type": "point", "filled": true, "strokeWidth": 1, "opacity": 1},
        "encoding": {"fill": {"field": "name", "type": "nominal", "legend": null, "scale": {"domain": ["Mg-3Zn-1Mn","Mg-1Zn-1Mn (wrought)","ZK60 (wrought)","WE43 (wrought)","Mg-2Zn-1Y","Mg-2Zn-0.5Y","JDBM (wrought)","Mg-1Zn (wrought)","Mg-1Sn (wrought)","Mg-1Ca (wrought)","Mg-1Zr","Mg (wrought)","CEC-JDBM","BP-ECAP AZ31","Mg-4Zn-0.5Sr","WE43 (cast)","AZ91D","JDBM (cast)","Mg-2Zn-0.5Sr","Mg-4Zn","ZK60 (cast)","Mg-0.6Si","Mg-0.6Si-1.5Zn","Mg-1Zn-1Mn (cast)","Mg-1Sn (cast)","Mg-1Ca (cast)","Mg-0.5Sr","Mg (cast)","Mg-1Zn-1Ca","Mg-1Sr","Mg-4Zn-1Ca","Fe-3Co (wrought)","Fe-3C (wrought)","Fe-3Al","Fe (wrought)","Fe-3Mn","Fe (cast)","unlabelled","Fe-3B","annealed Fe","Fe-30Mn","Fe-3Co (cast)","Fe-30Mn-6Si"], "range": ["#3a3aff","#3a3aff","#8a8a30","#6b3030","#3a3aff","#3a3aff","#5a3aaa","#3a3aff","#4f8a80","#1a1a1a","#e030e0","#e04040","#111111","#e02020","#e01e1e","#1b1b6b","#e020e0","#6b6b1b","#e01e1e","#e01e1e","#4a6a1a","#3a6a6a","#3a6a6a","#e01e1e","#d01e6e","#111111","#5c1010","#1e1eff","#e01e1e","#5c1010","#e01e1e","#3030ff","#d04040","#4f8a7c","#1a1a1a","#1e1eff","#111111","#8a8a20","#1b1b6b","#e01e1e","#1e1eff","#3a7468","#1e1eff"]}}}}
      ]
     },
     {"data": {"name": "b_labels"}, "mark": {"type": "text", "align": "left", "baseline": "middle", "font": "Liberation Sans", "fontSize": 15.5, "color": "#111111"}, "encoding": {"text": {"field": "t"}}}
    ]
   },
   {
    "encoding": {
     "x": {"field": "x", "type": "quantitative", "scale": {"domain": [0, 0.4], "range": [219.7, 517], "nice": false, "zero": false}, "axis": {"orient": "bottom", "offset": -157.5, "values": [0, 0.1, 0.2, 0.3, 0.4], "format": ".1f", "labelFontSize": 8.5, "tickSize": 3, "domainWidth": 1, "labelPadding": 2, "title": null}},
     "y": {"field": "y", "type": "quantitative", "scale": {"domain": [0, 500], "range": [273.5, 36.5], "nice": false, "zero": false}, "axis": {"orient": "left", "offset": -219.7, "values": [0,50,100,150,200,250,300,350,400,450,500], "labelFontSize": 8.5, "tickSize": 3, "domainWidth": 1, "labelPadding": 2, "title": null}}
    },
    "layer": [
     {"data": {"values": [{"x": 0, "x2": 0.4, "y": 0, "y2": 500}]}, "mark": {"type": "rect", "fill": "white", "stroke": "black", "strokeWidth": 1}, "encoding": {"x2": {"field": "x2"}, "y2": {"field": "y2"}}},
     {"data": {"name": "in_outline"}, "mark": {"type": "line", "interpolate": "cardinal-closed", "strokeWidth": 2, "color": "#5b9bd5"}, "encoding": {"detail": {"field": "id"}, "order": {"field": "i"}}},
     {
      "data": {"name": "in_pts"},
      "layer": [
       {"transform": [{"filter": "datum.sym === 'wrought Fe'"}], "mark": {"type": "point", "filled": false, "strokeWidth": 1, "opacity": 1, "size": 50, "shape": "M0,-1L0.87,0.5L-0.87,0.5Z M0,1L0.87,-0.5L-0.87,-0.5Z M-0.75,-0.75L0.75,0.75 M0.75,-0.75L-0.75,0.75"},
        "encoding": {"stroke": {"field": "name", "type": "nominal", "legend": null}}},
       {"transform": [{"filter": "datum.sym === 'cast Fe'"}], "mark": {"type": "point", "filled": true, "strokeWidth": 1, "opacity": 1, "size": 40, "shape": "triangle-up"},
        "encoding": {"stroke": {"field": "name", "type": "nominal", "legend": null}, "fill": {"field": "name", "type": "nominal", "legend": null}}}
      ]
     },
     {"data": {"name": "in_labels"}, "mark": {"type": "text", "align": "left", "baseline": "middle", "font": "Liberation Sans", "fontSize": 11, "color": "#d42a2a"}, "encoding": {"text": {"field": "t"}}},
     {"data": {"name": "in_big"}, "mark": {"type": "text", "align": "left", "baseline": "middle", "font": "Open Sans", "fontWeight": "bold", "fontSize": 24, "color": "#5b9bd5"}, "encoding": {"text": {"field": "t"}}}
    ]
   },
   {
    "encoding": {
     "x": {"field": "x", "type": "quantitative", "scale": {"domain": [-0.5, 5], "nice": false, "zero": false}, "axis": null},
     "y": {"field": "y", "type": "quantitative", "scale": {"domain": [0, 300], "nice": false, "zero": false}, "axis": null}
    },
    "layer": [
     {"data": {"name": "b_big"}, "mark": {"type": "text", "align": "left", "baseline": "middle", "font": "Open Sans", "fontWeight": "bold", "fontSize": 32, "color": "#cc1f1f"}, "encoding": {"text": {"field": "t"}}},
     {"data": {"values": [{"x": -0.332, "y": 181.3, "t": "Cast Fe"}]}, "mark": {"type": "text", "align": "center", "baseline": "middle", "angle": 270, "font": "Open Sans", "fontWeight": "bold", "fontSize": 26, "color": "#5b9bd5"}, "encoding": {"text": {"field": "t"}}},
     {"data": {"values": [{"x": 4.583, "y": 287.8, "t": "(b)"}]}, "mark": {"type": "text", "align": "left", "baseline": "middle", "font": "Liberation Sans", "fontWeight": "bold", "fontSize": 22, "color": "#000"}, "encoding": {"text": {"field": "t"}}}
    ]
   },
   {
    "data": {"values": [{"x": 0, "y": 0}]},
    "mark": {"type": "text", "text": ""},
    "encoding": {
     "x": {"field": "x", "type": "quantitative", "scale": {"domain": [-0.5, 5], "nice": false, "zero": false}, "axis": {"orient": "bottom", "values": [-0.5,0.5,1.5,2.5,3.5,4.5], "labels": false, "domain": false, "tickSize": 3, "title": null}},
     "y": {"field": "y", "type": "quantitative", "scale": {"domain": [0, 300], "nice": false, "zero": false}, "axis": {"orient": "left", "values": [15,45,75,105,135,165,195,225,255,285], "labels": false, "domain": false, "tickSize": 3, "title": null}}
    }
   }
  ]
 }
]
}
